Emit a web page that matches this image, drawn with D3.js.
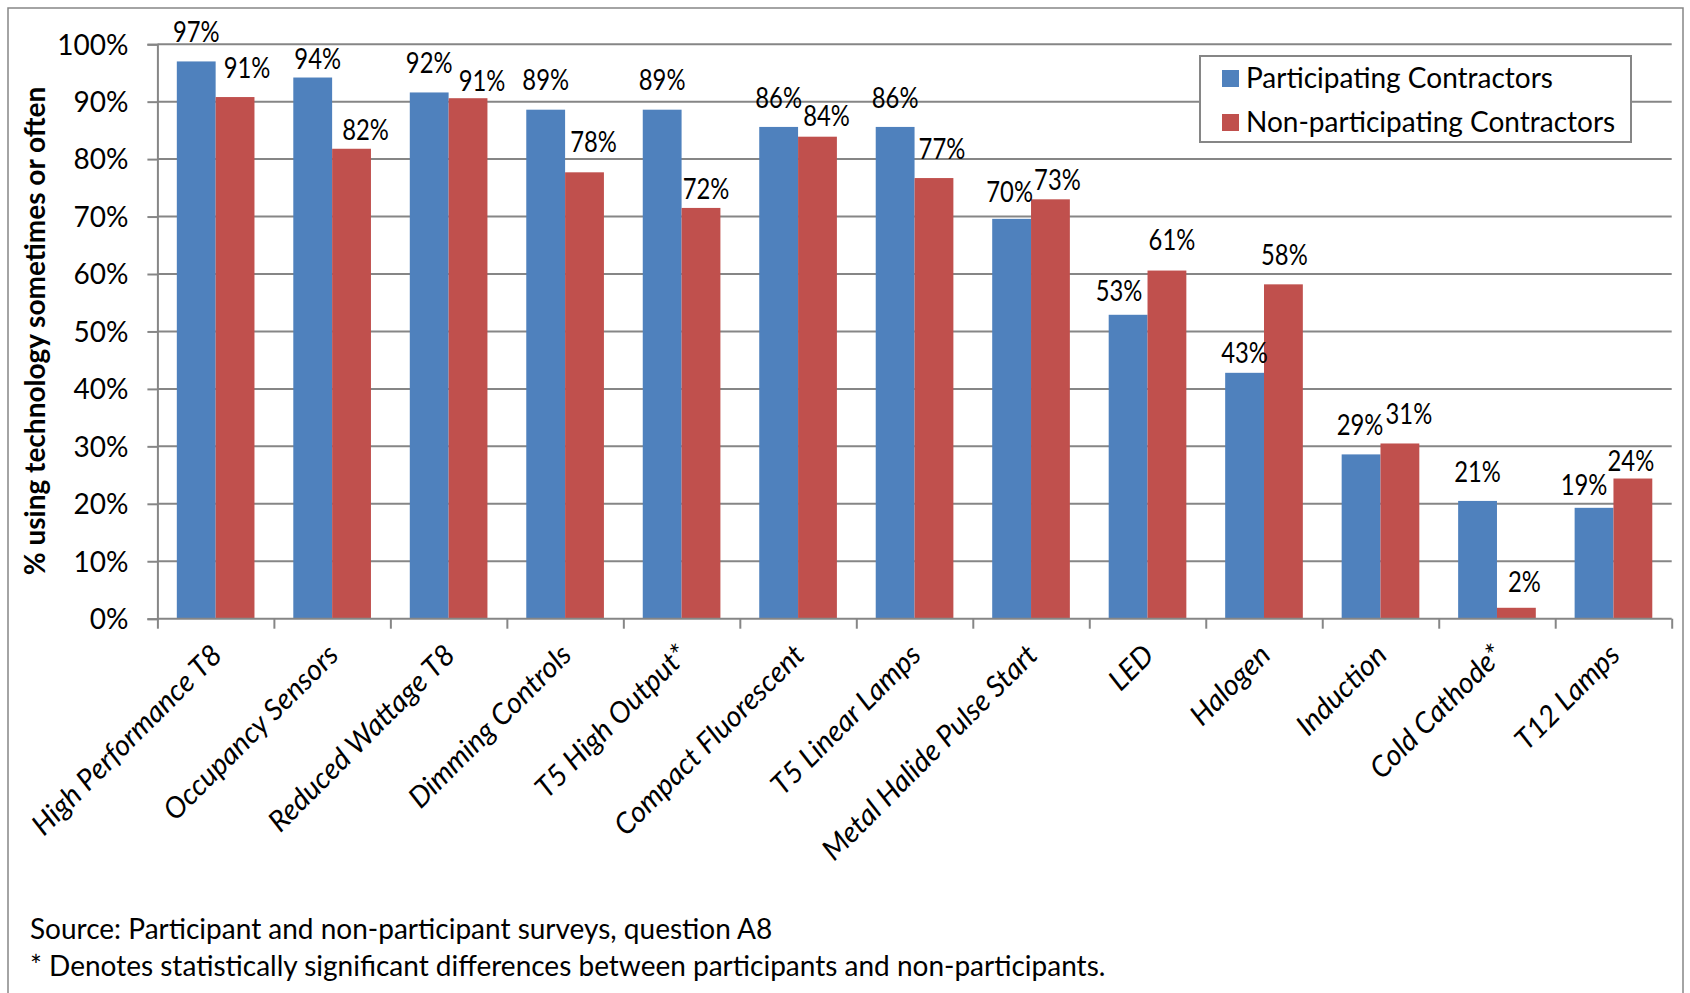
<!DOCTYPE html>
<html><head><meta charset="utf-8">
<script src="https://cdn.jsdelivr.net/npm/d3@7"></script>
<style>
html,body{margin:0;padding:0;background:#fff;}
text{font-family:Lato,"Open Sans",sans-serif;fill:#000;}
</style></head>
<body><svg id="c" width="1690" height="993"></svg>
<script>
const categories = ["High Performance T8","Occupancy Sensors","Reduced Wattage T8","Dimming Controls","T5 High Output*","Compact Fluorescent","T5 Linear Lamps","Metal Halide Pulse Start","LED","Halogen","Induction","Cold Cathode*","T12 Lamps"];
const participating = [0.970,0.942,0.916,0.886,0.886,0.856,0.856,0.696,0.529,0.428,0.286,0.205,0.193];
const nonParticipating = [0.908,0.818,0.906,0.777,0.715,0.839,0.767,0.730,0.606,0.582,0.305,0.019,0.244];
const seriesNames = ["Participating Contractors","Non-participating Contractors"];
const yTicks = [0,0.1,0.2,0.3,0.4,0.5,0.6,0.7,0.8,0.9,1.0];
const axisTitle = "% using technology sometimes or often";
const notes = ["Source: Participant and non-participant surveys, question A8","* Denotes statistically significant differences between participants and non-participants."];
// label nudges (layout only)
const nudgeP = [[0,0],[5,11],[0,0],[0,0],[0,0],[0,0],[0,0],[-2,2],[-9,5],[0,9],[-1,0],[0,0],[-10,6]];
const nudgeN = [[12,0],[14,10],[14,12],[9,-1],[5,10],[9,9],[8,0],[7,10],[5,-1],[1,0],[9,0],[8,3],[-2,12]];

const colors = ["#4F81BD","#C0504D"];
const grid = "#868686";
const svg = d3.select("#c");
const L = 157.4, R = 1671.7, B = 618.7, T = 44.2;

svg.append("rect").attr("x",8).attr("y",8).attr("width",1675).attr("height",1000)
  .attr("fill","none").attr("stroke",grid).attr("stroke-width",1.5);

const y = d3.scaleLinear().domain([0,1]).range([B,T]);
const x = d3.scaleBand().domain(categories).range([L,R]).paddingInner(1/3).paddingOuter(1/6);
const xs = d3.scaleBand().domain([0,1]).range([0,x.bandwidth()]);

// gridlines
svg.append("g").selectAll("line").data(yTicks.filter(d=>d>0)).join("line")
  .attr("x1",L).attr("x2",R).attr("y1",d=>y(d)).attr("y2",d=>y(d))
  .attr("stroke",grid).attr("stroke-width",2);

// y axis
const ya = svg.append("g").attr("transform",`translate(${L},0)`)
  .call(d3.axisLeft(y).tickValues(yTicks).tickFormat(d3.format(".0%")).tickSize(10).tickPadding(19));
ya.select(".domain").attr("stroke",grid).attr("stroke-width",2);
ya.selectAll(".tick line").attr("stroke",grid).attr("stroke-width",2);
ya.selectAll(".tick text").style("font-size","28px").attr("dy","0.35em").attr("fill","#000");

// bars
const data = categories.map((c,i)=>({c,vals:[participating[i],nonParticipating[i]],i}));
const g = svg.append("g");
data.forEach(d=>{
  d.vals.forEach((v,k)=>{
    g.append("rect").attr("x",x(d.c)+xs(k)).attr("width",xs.bandwidth())
      .attr("y",y(v)).attr("height",y(0)-y(v)).attr("fill",colors[k]);
  });
});

// x axis with boundary ticks
const xi = d3.scaleLinear().domain([0,categories.length]).range([L,R]);
const xa = svg.append("g").attr("transform",`translate(0,${B})`)
  .call(d3.axisBottom(xi).tickValues(d3.range(categories.length+1)).tickFormat("").tickSize(10));
xa.select(".domain").attr("stroke",grid).attr("stroke-width",2).attr("d",`M${L},0H${R}`);
xa.selectAll(".tick line").attr("stroke",grid).attr("stroke-width",2);

// category labels
svg.append("g").selectAll("text").data(categories).join("text")
  .attr("transform",d=>`translate(${x(d)+x.bandwidth()/2+1},${B+31}) rotate(-45)`)
  .attr("text-anchor","end").attr("dy","0.35em")
  .style("font-size","29px").style("font-style","italic").text(d=>d);

// data labels (condensed to a Calibri-like width)
const fmt = d3.format(".0%");
const lbl = g.append("g");
data.forEach(d=>{
  d.vals.forEach((v,k)=>{
    const n = (k===0?nudgeP:nudgeN)[d.i];
    lbl.append("text").attr("x",x(d.c)+xs(k)+xs.bandwidth()/2+n[0]).attr("y",y(v)-29+n[1])
      .attr("dy","0.35em").attr("text-anchor","middle").style("font-size","28px").text(fmt(v));
  });
});
lbl.selectAll("text").each(function(){
  const w = this.getComputedTextLength();
  d3.select(this).attr("textLength",w*0.85).attr("lengthAdjust","spacingAndGlyphs");
});

// y title
svg.append("text").attr("transform",`translate(35,331) rotate(-90)`).attr("text-anchor","middle")
  .attr("dy","0.35em").style("font-size","28px").style("font-weight","bold").text(axisTitle);

// legend
const lg = svg.append("g");
lg.append("rect").attr("x",1200).attr("y",56).attr("width",431).attr("height",86)
  .attr("fill","#fff").attr("stroke",grid).attr("stroke-width",2);
seriesNames.forEach((s,k)=>{
  lg.append("rect").attr("x",1222).attr("y",70+k*44).attr("width",17).attr("height",17).attr("fill",colors[k]);
  lg.append("text").attr("x",1246).attr("y",78.5+k*44).attr("dy","0.35em").style("font-size","28px").text(s);
});

// notes
svg.append("g").selectAll("text").data(notes).join("text")
  .attr("x",30).attr("y",(d,i)=>929+i*37).attr("dy","0.35em").style("font-size","28px").text(d=>d);
</script></body></html>
